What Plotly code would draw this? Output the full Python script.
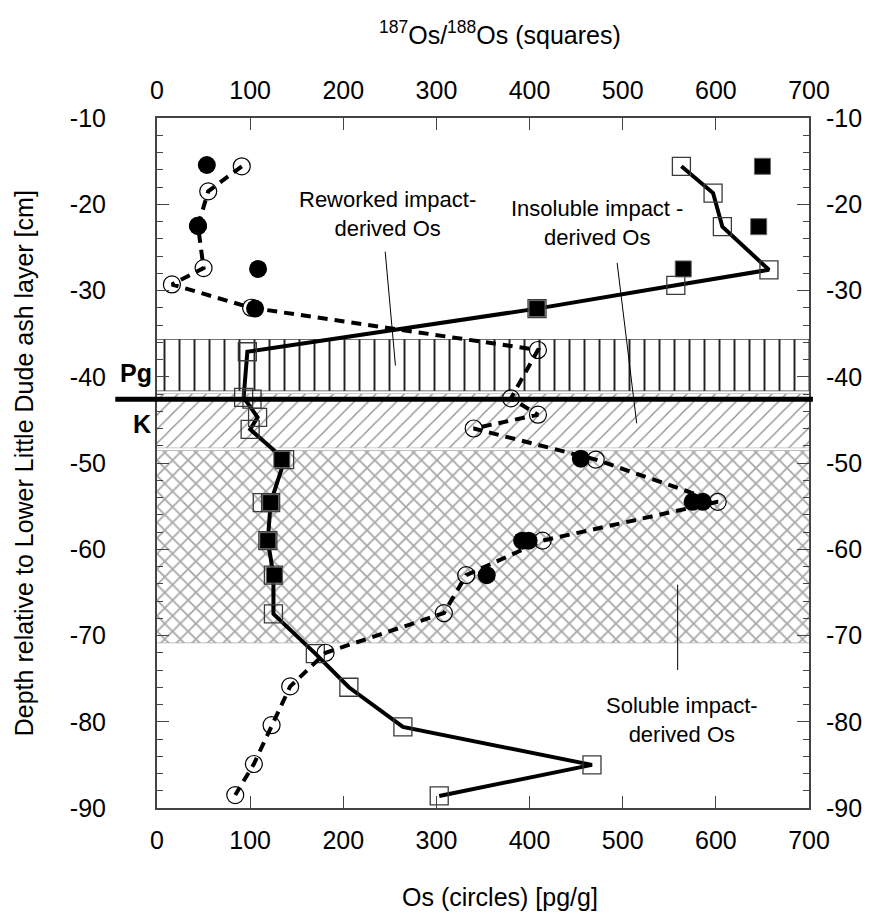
import plotly.graph_objects as go

# 187Os/188Os profile (open squares, joined by the solid line)
sq_depth = [-15.6, -18.7, -22.6, -27.6, -29.4, -32.1, -37.1, -42.4, -44.7, -46.1,
            -49.6, -54.6, -59.0, -63.0, -67.5, -72.1, -76.0, -80.6, -85.0, -88.6]
sq_value = [563, 597, 607, 657, 557, 408, 97, 93, 108, 100,
            137, 122, 119, 125, 125, 170, 206, 264, 467, 303]
# additional open squares (replicates)
sq_extra_depth = [-42.6, -54.6]
sq_extra_value = [102, 113]
# filled squares
sqf_depth = [-15.6, -22.6, -27.5, -32.1, -49.6, -54.6, -59.0, -63.0]
sqf_value = [650, 646, 565, 408, 134, 122, 119, 126]

# Os concentration profile (open circles, joined by the dashed line)
c_depth = [-15.6, -18.5, -22.5, -27.4, -29.3, -32.0, -36.9, -42.5, -44.4, -46.0,
           -49.6, -54.5, -59.0, -63.0, -67.4, -72.0, -75.9, -80.4, -84.9, -88.5]
c_value = [91, 55, 44, 50, 16, 101, 409, 380, 409, 340,
           471, 602, 414, 332, 308, 181, 143, 123, 104, 84]
# filled circles
cf_depth = [-15.45, -22.5, -27.5, -32.1, -49.5, -54.5, -54.5, -59.0, -59.0, -63.0]
cf_value = [53.5, 44, 108.5, 105.3, 455, 575, 586, 392, 399, 354]

# shaded intervals: (top, bottom)
reworked_zone = (-35.7, -41.6)
insoluble_zone = (-42.0, -48.2)
soluble_zone = (-48.6, -70.8)
kpg_depth = -42.6

x_ticks = [0, 100, 200, 300, 400, 500, 600, 700]
y_ticks = [-90, -80, -70, -60, -50, -40, -30, -20, -10]
y_ticktext = ["-90", "-80", "-70", "-60", "-50", "-40", "-30", "-20", "-10"]

FONT = "Arial, Liberation Sans, Helvetica, sans-serif"

fig = go.Figure()


def zone(top, bottom, shape, size, solidity, color, edge):
    fig.add_trace(go.Scatter(
        x=[0, 700, 700, 0, 0], y=[top, top, bottom, bottom, top],
        mode="lines", fill="toself", line=dict(width=0),
        fillcolor="rgba(255,255,255,0)",
        fillpattern=dict(shape=shape, size=size, solidity=solidity,
                         fgcolor=color, bgcolor="white", fillmode="replace"),
        hoverinfo="skip", showlegend=False))
    for yy in (top, bottom):
        fig.add_shape(type="line", x0=0, x1=700, y0=yy, y1=yy, xref="x", yref="y",
                      line=dict(color=edge, width=1.5), layer="below")


zone(*reworked_zone, "|", 15, 0.13, "#222222", "#444444")
zone(*insoluble_zone, "/", 10, 0.12, "#8a8a8a", "#bbbbbb")
zone(*soluble_zone, "x", 11, 0.3, "#a8a8a8", "#aaaaaa")

# solid line with open squares
fig.add_trace(go.Scatter(
    x=sq_value, y=sq_depth, mode="lines+markers",
    line=dict(color="black", width=4),
    marker=dict(symbol="square-open", size=18, color="#3a3a3a", line=dict(width=1.3)),
    showlegend=False))
fig.add_trace(go.Scatter(
    x=sq_extra_value, y=sq_extra_depth, mode="markers",
    marker=dict(symbol="square-open", size=18, color="#3a3a3a", line=dict(width=1.3)),
    showlegend=False))

# dashed line with open circles
fig.add_trace(go.Scatter(
    x=c_value, y=c_depth, mode="lines+markers",
    line=dict(color="black", width=4, dash="10px,7px"),
    marker=dict(symbol="circle-open", size=17, color="black", line=dict(width=1.2)),
    showlegend=False))

# filled symbols
fig.add_trace(go.Scatter(
    x=sqf_value, y=sqf_depth, mode="markers",
    marker=dict(symbol="square", size=16, color="black",
                line=dict(color="#666666", width=1)),
    showlegend=False))
fig.add_trace(go.Scatter(
    x=cf_value, y=cf_depth, mode="markers",
    marker=dict(symbol="circle", size=18, color="black"),
    showlegend=False))

# trace that carries the top and right axes
fig.add_trace(go.Scatter(x=[None], y=[None], xaxis="x2", yaxis="y2",
                         showlegend=False, hoverinfo="skip"))

# K-Pg boundary
fig.add_shape(type="line", xref="paper", yref="y", x0=-0.064, x1=1.006,
              y0=kpg_depth, y1=kpg_depth, line=dict(color="black", width=5))

# leader lines
leaders = [((245, -25.5), (256, -38.7)),
           ((494, -26.8), (515, -45.4)),
           ((559, -64.1), (559, -74.0))]
for (xa, ya), (xb, yb) in leaders:
    fig.add_shape(type="line", xref="x", yref="y", x0=xa, y0=ya, x1=xb, y1=yb,
                  line=dict(color="black", width=1))

labels = [(248, -21.1, "Reworked impact-<br>derived Os"),
          (472, -22.2, "Insoluble impact -<br>derived Os"),
          (564, -79.8, "Soluble impact-<br>derived Os")]
for lx, ly, txt in labels:
    fig.add_annotation(x=lx, y=ly, xref="x", yref="y", text=txt, showarrow=False,
                       xanchor="center", yanchor="middle",
                       font=dict(family=FONT, size=22, color="black"), align="center")


def paper_text(x, y, text, size, angle=0):
    fig.add_annotation(x=x, y=y, xref="paper", yref="paper", text=text,
                       showarrow=False, xanchor="center", yanchor="middle",
                       textangle=angle, font=dict(family=FONT, size=size, color="black"))


paper_text(-0.032, 0.630, "<b>Pg</b>", 25)
paper_text(-0.0236, 0.5565, "<b>K</b>", 25)

# axis titles
paper_text(0.526, -0.129, "Os (circles) [pg/g]", 25)
paper_text(0.526, 1.123, "<sup>187</sup>Os/<sup>188</sup>Os (squares)", 25)
paper_text(-0.2036, 0.5, "Depth relative to Lower Little Dude ash layer [cm]", 25, -90)

xaxis_common = dict(range=[0, 700], tickvals=x_ticks, ticks="inside", ticklen=12,
                    tickwidth=1.2, tickcolor="#444444", showline=True,
                    linecolor="#444444", linewidth=2, showgrid=False, zeroline=False,
                    tickfont=dict(family=FONT, size=25, color="black"))
yaxis_common = dict(range=[-90, -10], tickvals=y_ticks, ticktext=y_ticktext,
                    ticks="inside", ticklen=12, tickwidth=1.2, tickcolor="#444444",
                    minor=dict(dtick=2, ticks="inside", ticklen=6, tickcolor="#444444",
                               tickwidth=1.2),
                    showline=True, linecolor="#444444", linewidth=2, showgrid=False,
                    zeroline=False, tickfont=dict(family=FONT, size=25, color="black"))

fig.update_layout(
    width=874, height=915,
    margin=dict(l=157, r=59, t=118, b=107),
    plot_bgcolor="white", paper_bgcolor="white",
    font=dict(family=FONT, color="black"),
    xaxis=dict(**xaxis_common, side="bottom", ticklabelstandoff=9),
    xaxis2=dict(**xaxis_common, side="top", overlaying="x", anchor="y",
                ticklabelstandoff=7),
    yaxis=dict(**yaxis_common, side="left", ticklabelstandoff=44),
    yaxis2=dict(**yaxis_common, side="right", overlaying="y", anchor="x",
                ticklabelstandoff=10),
)

fig.write_html("out.html")
